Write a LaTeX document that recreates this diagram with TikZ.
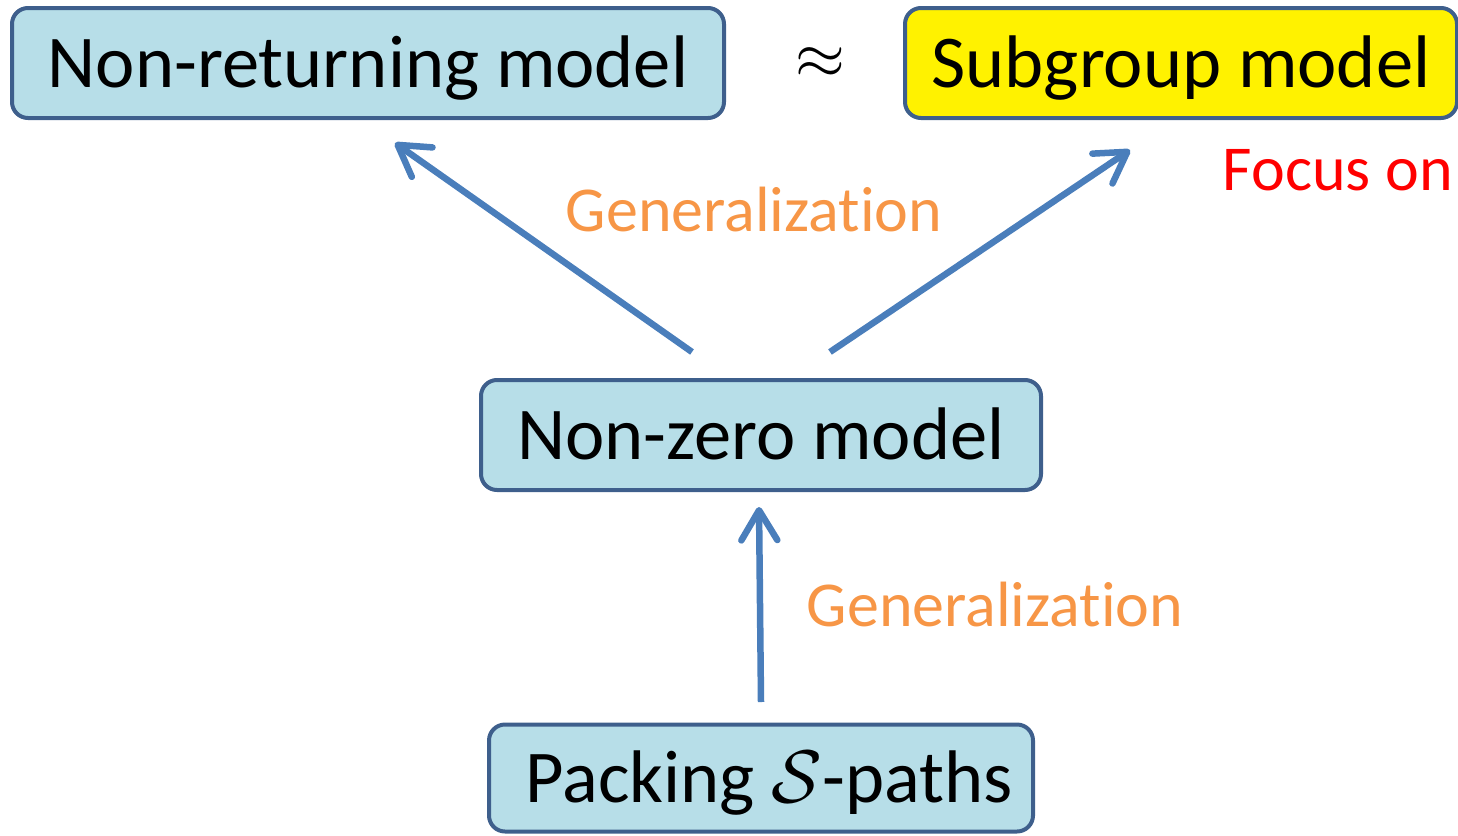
\documentclass[tikz,border=0pt]{standalone}
\usepackage{graphicx}
\usepackage{fontspec}
\setmainfont{Carlito}[Ligatures=NoCommon]
\usetikzlibrary{arrows.meta}
\definecolor{boxfill}{HTML}{B7DEE8}
\definecolor{boxline}{HTML}{3E5F8C}
\definecolor{arrowblue}{HTML}{4A7EBB}
\definecolor{genorange}{HTML}{F79646}
\definecolor{focusred}{HTML}{FF0000}
% calligraphic S and approx sign, enlarged from the 10pt math fonts
\newcommand{\bigcalS}{{\fontsize{10}{12}\selectfont\scalebox{7.45}{$\mathcal{S}$}}}
\newcommand{\bigapprox}{{\fontsize{10}{12}\selectfont\scalebox{6.4}{$\approx$}}}
\tikzset{
  model/.style={draw=boxline, line width=4pt, fill=boxfill, rounded corners=16pt,
    inner sep=0pt, font=\fontsize{74.5}{88}\selectfont, text=black,
    text height=49pt, text depth=0pt},
  genlabel/.style={font=\fontsize{64}{76}\selectfont, text=genorange, inner sep=0pt},
  genarrow/.style={draw=arrowblue, line width=6.5pt,
    -{Straight Barb[length=30pt, width=36pt, round]}},
}
\begin{document}
\begin{tikzpicture}[x=1pt, y=-1pt]
  \useasboundingbox (0,0) rectangle (1458,835);

  % model boxes
  \node[model, minimum width=712pt, minimum height=110pt] (nonret) at (368,63) {Non-returning model};
  \node[model, fill=yellow, minimum width=552pt, minimum height=110pt] (subgrp) at (1181,63) {Subgroup model};
  \node[model, minimum width=560pt, minimum height=110pt] (nonzero) at (761,435) {Non-zero model};
  \node[model, minimum width=544pt, minimum height=107pt] (packing) at (761,778) {\hspace{16pt}Packing \bigcalS-paths};

  % relation between the two top models
  \node[inner sep=0pt] (approx) at (820,63) {\bigapprox};

  % labels
  \node[font=\fontsize{64}{76}\selectfont, text=focusred, inner sep=0pt, anchor=east] (focus) at (1453,170) {Focus on};
  \node[genlabel] (gen1) at (754,210) {Generalization};
  \node[genlabel] (gen2) at (995,605) {Generalization};

  % arrow end points
  \coordinate (lstart) at (692,352);
  \coordinate (lend) at (395,143);
  \coordinate (rstart) at (830,352);
  \coordinate (rend) at (1130,150);
  \coordinate (vstart) at (761,702);
  \coordinate (vend) at (759,507);

  \draw[genarrow] (lstart) -- (lend);
  \draw[genarrow] (rstart) -- (rend);
  \draw[genarrow] (vstart) -- (vend);
\end{tikzpicture}
\end{document}
